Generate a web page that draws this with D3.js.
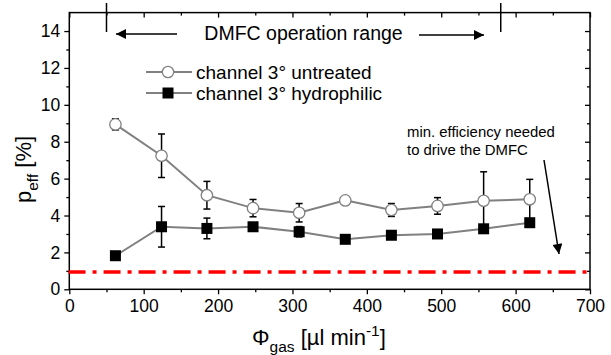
<!DOCTYPE html>
<html>
<head>
<meta charset="utf-8">
<script src="https://cdn.jsdelivr.net/npm/d3@7"></script>
<style>
  html, body { margin: 0; padding: 0; background: #fff; }
  svg { display: block; font-family: "Liberation Sans", Arial, sans-serif; }
</style>
</head>
<body>
<svg id="chart" width="611" height="355"></svg>
<script>
// ---- data ----
const flowRates = [62, 124, 185, 247, 309, 371, 433, 495, 557, 619];
const untreated = [8.94, 7.24, 5.1, 4.4, 4.15, 4.82, 4.3, 4.52, 4.8, 4.88];
const untreatedErr = [0.3, 1.18, 0.75, 0.47, 0.5, 0.15, 0.35, 0.45, 1.57, 1.08];
const hydrophilic = [1.82, 3.39, 3.3, 3.39, 3.12, 2.71, 2.93, 3.0, 3.28, 3.61];
const hydrophilicErr = [0.1, 1.1, 0.56, 0.1, 0.28, 0.1, 0.1, 0.1, 0.1, 0.1];
const minEfficiency = 0.94;
const operationRange = [50, 580];
const xTicks = [0, 100, 200, 300, 400, 500, 600, 700];
const yTicks = [0, 2, 4, 6, 8, 10, 12, 14];
const seriesNames = ["channel 3\u00b0 untreated", "channel 3\u00b0 hydrophilic"];

// ---- layout ----
const svg = d3.select("#chart");
const L = 69.3, R = 590, T = 12.6, B = 289.3;
const x = d3.scaleLinear().domain([0, 700]).range([L, R]);
const y = d3.scaleLinear().domain([0, 15]).range([B, T]);
const lineColor = "#808080";

// frame
svg.append("rect").attr("x", L).attr("y", T).attr("width", R - L).attr("height", B - T)
  .attr("fill", "none").attr("stroke", "#000").attr("stroke-width", 1.5);

const xMinor = d3.range(50, 700, 100);
const yMinor = d3.range(1, 15, 2);

function styleAxis(g) {
  g.select(".domain").remove();
  g.selectAll(".tick line").attr("stroke", "#000").attr("stroke-width", 1.3);
  g.selectAll(".tick text").attr("fill", "#000").style("font-size", "17.5px")
    .style("font-family", "'Liberation Sans', Arial, sans-serif");
}

// bottom
svg.append("g").attr("transform", `translate(0,${B})`)
  .call(d3.axisBottom(x).tickValues(xTicks).tickSize(5).tickPadding(5).tickFormat(d3.format("d")))
  .call(styleAxis);
svg.append("g").attr("transform", `translate(0,${B})`)
  .call(d3.axisBottom(x).tickValues(xMinor).tickSize(3).tickFormat(""))
  .call(styleAxis);
// top (inward)
svg.append("g").attr("transform", `translate(0,${T})`)
  .call(d3.axisTop(x).tickValues(xTicks).tickSize(-5).tickFormat(""))
  .call(styleAxis);
svg.append("g").attr("transform", `translate(0,${T})`)
  .call(d3.axisTop(x).tickValues(xMinor).tickSize(-3).tickFormat(""))
  .call(styleAxis);
// left
svg.append("g").attr("transform", `translate(${L},0)`)
  .call(d3.axisLeft(y).tickValues(yTicks).tickSize(5).tickPadding(4).tickFormat(d3.format("d")))
  .call(styleAxis);
svg.append("g").attr("transform", `translate(${L},0)`)
  .call(d3.axisLeft(y).tickValues(yMinor).tickSize(3).tickFormat(""))
  .call(styleAxis);
// right (inward)
svg.append("g").attr("transform", `translate(${R},0)`)
  .call(d3.axisRight(y).tickValues(yTicks).tickSize(-5).tickFormat(""))
  .call(styleAxis);
svg.append("g").attr("transform", `translate(${R},0)`)
  .call(d3.axisRight(y).tickValues(yMinor).tickSize(-3).tickFormat(""))
  .call(styleAxis);

// min efficiency line
svg.append("line")
  .attr("x1", x(-1)).attr("x2", x(700)).attr("y1", y(minEfficiency)).attr("y2", y(minEfficiency))
  .attr("stroke", "#ff0000").attr("stroke-width", 3.6)
  .attr("stroke-dasharray", "17,7,4,7");

// arrow marker
svg.append("defs").append("marker")
  .attr("id", "ah").attr("viewBox", "0 0 10 10").attr("refX", 10).attr("refY", 5)
  .attr("markerUnits", "userSpaceOnUse").attr("markerWidth", 12).attr("markerHeight", 10)
  .attr("orient", "auto")
  .append("path").attr("d", "M0,0 L10,5 L0,10 Z").attr("fill", "#000");

const lineGen = d3.line().x((d, i) => x(flowRates[i])).y(d => y(d));

function drawSeries(vals, errs, filled) {
  const g = svg.append("g");
  g.append("path").datum(vals).attr("d", lineGen)
    .attr("fill", "none").attr("stroke", lineColor).attr("stroke-width", 2);
  // error bars
  vals.forEach((v, i) => {
    const cx = x(flowRates[i]);
    const e = errs[i];
    g.append("line").attr("x1", cx).attr("x2", cx).attr("y1", y(v + e)).attr("y2", y(v - e))
      .attr("stroke", "#000").attr("stroke-width", 1.5);
    [v + e, v - e].forEach(t => {
      g.append("line").attr("x1", cx - 3.5).attr("x2", cx + 3.5).attr("y1", y(t)).attr("y2", y(t))
        .attr("stroke", "#000").attr("stroke-width", 1.5);
    });
  });
  vals.forEach((v, i) => {
    const cx = x(flowRates[i]), cy = y(v);
    if (filled) {
      g.append("rect").attr("x", cx - 5.5).attr("y", cy - 5.5).attr("width", 11).attr("height", 11)
        .attr("fill", "#000");
    } else {
      g.append("circle").attr("cx", cx).attr("cy", cy).attr("r", 5.7)
        .attr("fill", "#fff").attr("stroke", lineColor).attr("stroke-width", 1.3);
    }
  });
}
drawSeries(untreated, untreatedErr, false);
drawSeries(hydrophilic, hydrophilicErr, true);

// legend
const legY = [72, 93];
seriesNames.forEach((name, i) => {
  const g = svg.append("g");
  g.append("line").attr("x1", 146).attr("x2", 192).attr("y1", legY[i]).attr("y2", legY[i])
    .attr("stroke", lineColor).attr("stroke-width", 2);
  if (i === 0) {
    g.append("circle").attr("cx", 168).attr("cy", legY[i]).attr("r", 5.7)
      .attr("fill", "#fff").attr("stroke", lineColor).attr("stroke-width", 1.3);
  } else {
    g.append("rect").attr("x", 168 - 5.5).attr("y", legY[i] - 5.5).attr("width", 11).attr("height", 11)
      .attr("fill", "#000");
  }
  g.append("text").attr("x", 196).attr("y", legY[i] + 6.5).style("font-size", "19px")
    .attr("fill", "#000").text(name);
});

// operation range markers
operationRange.forEach(v => {
  svg.append("line").attr("x1", x(v)).attr("x2", x(v)).attr("y1", 3).attr("y2", 32)
    .attr("stroke", "#000").attr("stroke-width", 1.5);
});
svg.append("line").attr("x1", 177).attr("x2", 116).attr("y1", 34).attr("y2", 34)
  .attr("stroke", "#000").attr("stroke-width", 1.5).attr("marker-end", "url(#ah)");
svg.append("line").attr("x1", 419).attr("x2", 484).attr("y1", 35).attr("y2", 35)
  .attr("stroke", "#000").attr("stroke-width", 1.5).attr("marker-end", "url(#ah)");
svg.append("text").attr("x", 303.5).attr("y", 40).attr("text-anchor", "middle")
  .style("font-size", "19.5px").attr("fill", "#000").text("DMFC operation range");

// min efficiency annotation
svg.append("text").attr("x", 407).attr("y", 137).style("font-size", "14.9px").attr("fill", "#000")
  .text("min. efficiency needed");
svg.append("text").attr("x", 407).attr("y", 154.5).style("font-size", "14.9px").attr("fill", "#000")
  .text("to drive the DMFC");
svg.append("line").attr("x1", 544).attr("y1", 160).attr("x2", 559).attr("y2", 254)
  .attr("stroke", "#000").attr("stroke-width", 1.5).attr("marker-end", "url(#ah)");

// axis titles
const xt = svg.append("text").attr("x", 252).attr("y", 345).style("font-size", "22px").attr("fill", "#000");
xt.append("tspan").text("\u03a6");
xt.append("tspan").attr("dy", 7).style("font-size", "15.5px").text("gas");
xt.append("tspan").attr("dy", -7).text(" [\u00b5l min");
xt.append("tspan").attr("dy", -9).style("font-size", "15.5px").text("-1");
xt.append("tspan").attr("dy", 9).text("]");

const yt = svg.append("text").attr("transform", "translate(31,203) rotate(-90)")
  .style("font-size", "22px").attr("fill", "#000");
yt.append("tspan").text("p");
yt.append("tspan").attr("dy", 7).style("font-size", "15.5px").text("eff");
yt.append("tspan").attr("dy", -7).text(" [%]");
</script>
</body>
</html>
